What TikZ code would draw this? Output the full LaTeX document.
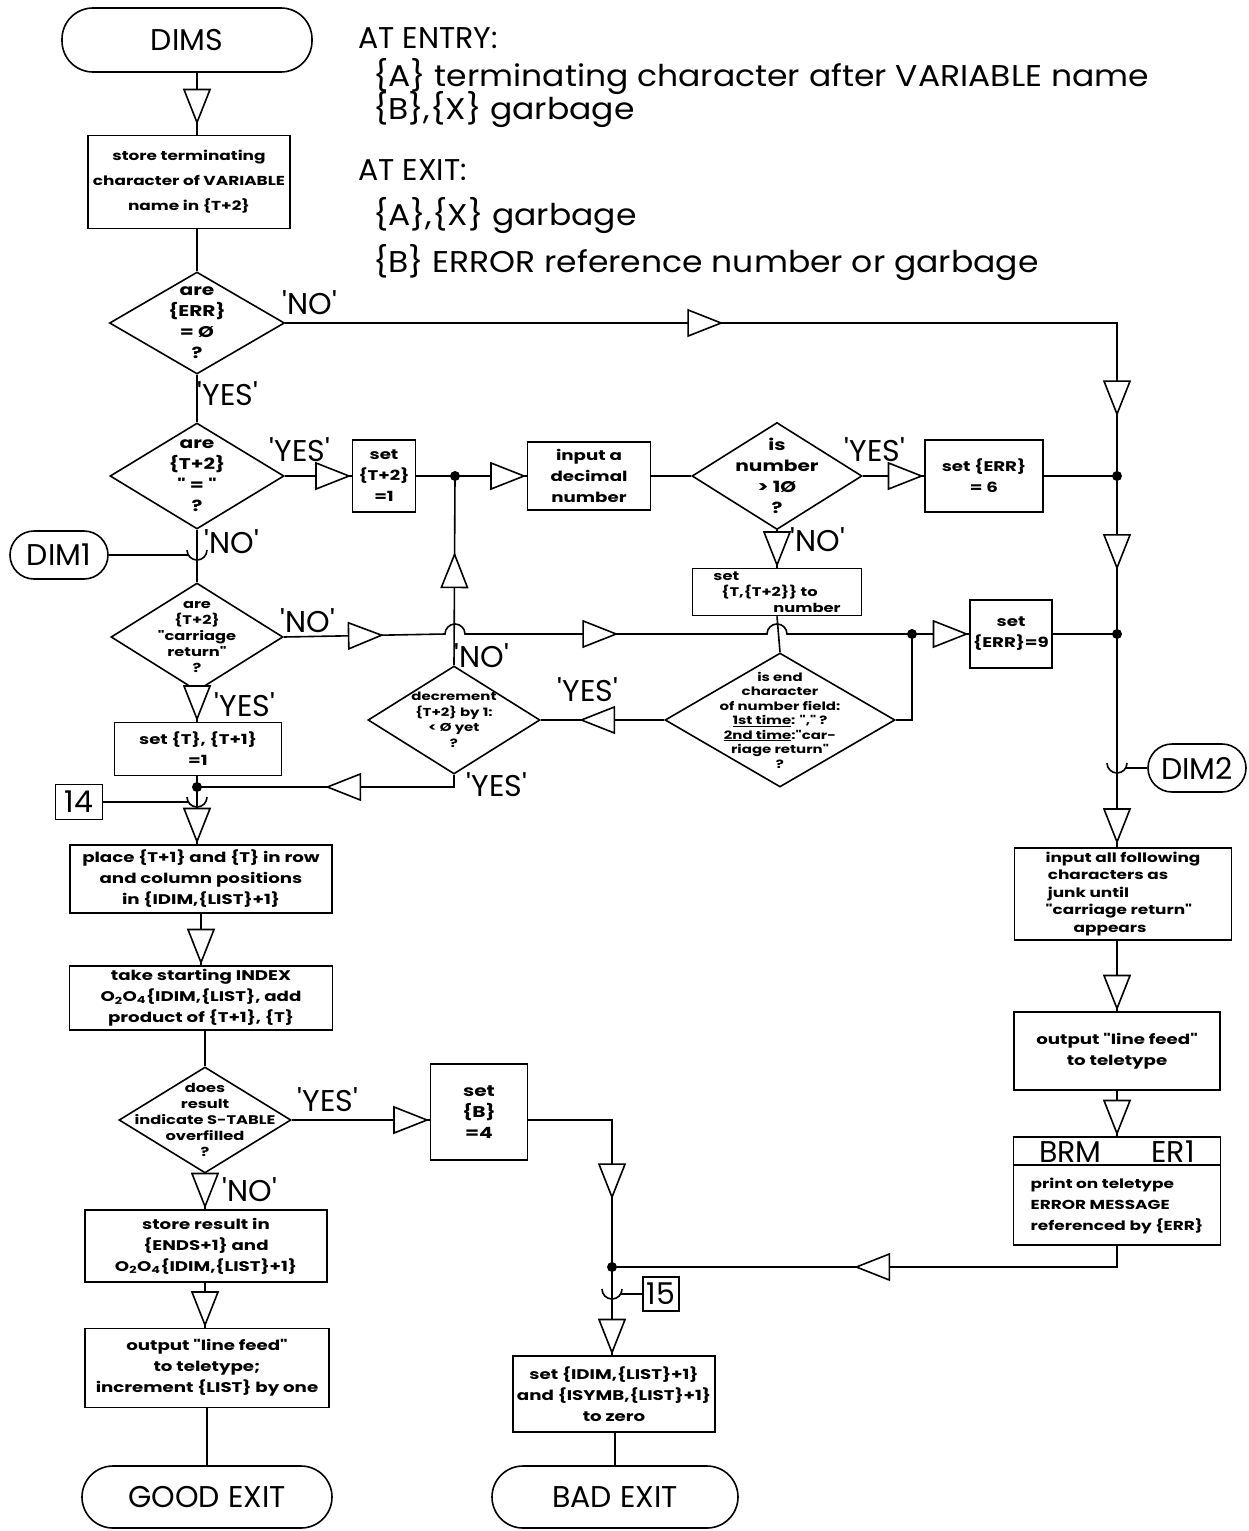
\documentclass[tikz,border=0pt]{standalone}
\usepackage{fontspec}
\setmainfont{Poppins}
\newfontfamily\handfont{Poppins}[FakeStretch=1.3]
\newfontfamily\widefont{Poppins}[FakeStretch=1.1]
\usetikzlibrary{shapes.geometric,arrows.meta,decorations.markings,calc}

\newcommand\handtext{\handfont\bfseries\fontsize{14}{21}\selectfont}
\newcommand\dectext{\handfont\bfseries\fontsize{15.5}{21}\selectfont}
\newcommand\smalltext{\handfont\bfseries\fontsize{12.5}{16}\selectfont}
\newcommand\tinytext{\handfont\bfseries\fontsize{11.5}{14.5}\selectfont}
\newcommand\bigtext{\fontsize{30}{34}\selectfont}
\newcommand\widetext{\widefont\fontsize{30}{34}\selectfont}
\newcommand\q{\textquotesingle}

\tikzset{
  flow/.style={line width=1.6pt},
  box/.style={draw, line width=1.6pt, inner sep=0pt, align=center, font=\handtext},
  term/.style={draw, line width=1.6pt, rounded corners=#1, inner sep=0pt, font=\bigtext},
  term/.default=31pt,
  decision/.style={draw, diamond, line width=1.6pt, inner sep=0pt},
  dtext/.style={align=center, font=\dectext, inner sep=0pt},
  answer/.style={font=\bigtext, inner sep=0pt},
  header/.style={font=\bigtext, anchor=base west, inner sep=0pt},
  Tri/.tip={Triangle[length=36pt,width=28pt,fill=white]},
  tipat/.style={postaction={decorate,decoration={markings,mark=at position #1 with {\arrow{Tri}}}}},
  jdot/.style={circle, fill, inner sep=0pt, minimum size=10pt},
}

\begin{document}
\begin{tikzpicture}[x=1pt,y=-1pt]
\fill[white] (0,0) rectangle (1249,1531);
\useasboundingbox (0,0) rectangle (1249,1531);

% ---------- entry / exit conditions ----------
\node[header] (entry) at (358,48) {AT ENTRY:};
\node[header, font=\widetext] (entA) at (373,86) {\{A\} terminating character after VARIABLE name};
\node[header, font=\widetext] (entB) at (373,119) {\{B\},\{X\} garbage};
\node[header] (exit) at (358,180) {AT EXIT:};
\node[header, font=\widetext] (exA) at (373,225) {\{A\},\{X\} garbage};
\node[header, font=\widetext] (exB) at (373,272) {\{B\} ERROR reference number or garbage};

% ---------- column coordinates and junctions ----------
\coordinate (mx) at (197,0);
\coordinate (jA) at (1117,476);
\coordinate (jB) at (1117,634);
\coordinate (jC) at (455,476);
\coordinate (jD) at (912,634);
\coordinate (jE) at (612,1267);
\coordinate (jF) at (197,787);
\coordinate (hopA) at (455,634);
\coordinate (hopB) at (777,634);
\coordinate (u1) at (197,550);
\coordinate (u14) at (197,797);
\coordinate (u2) at (1117,763);
\coordinate (u15) at (612,1289);

% ---------- terminals ----------
\node[term, minimum width=250pt, minimum height=64pt] (dims) at (187,40) {DIMS};
\node[term=24pt, minimum width=98pt, minimum height=48pt] (dim1) at (59,555) {DIM1};
\node[term=24pt, minimum width=98pt, minimum height=48pt] (dim2) at (1197,768) {DIM2};
\node[term, minimum width=250pt, minimum height=62pt] (good) at (207,1497) {GOOD EXIT};
\node[term, minimum width=246pt, minimum height=62pt] (bad) at (615,1497) {BAD EXIT};
\node[box, font=\bigtext, minimum width=47pt, minimum height=35pt] (n14) at (79,802) {14};
\node[box, font=\bigtext, minimum width=36pt, minimum height=34pt] (n15) at (661,1294) {15};

% ---------- process boxes ----------
\node[box, font=\handfont\bfseries\fontsize{13}{25}\selectfont, minimum width=202pt, minimum height=93pt] (st) at (189,182)
  {store terminating\\character of VARIABLE\\name in \{T+2\}};
\node[box, minimum width=63pt, minimum height=72pt] (set1) at (384,476)
  {set\\\{T+2\}\\=1};
\node[box, minimum width=123pt, minimum height=68pt] (inp) at (589,476)
  {input a\\decimal\\number};
\node[box, minimum width=118pt, minimum height=72pt] (err6) at (984,476)
  {set \{ERR\}\\= 6};
\node[box, font=\smalltext, align=left, minimum width=169pt, minimum height=47pt] (setT) at (777,592)
  {set\\\hspace*{8pt}\{T,\{T+2\}\} to\\\hspace*{60pt}number};
\node[box, minimum width=82pt, minimum height=68pt] (err9) at (1011,634)
  {set\\\{ERR\}=9};
\node[box, minimum width=167pt, minimum height=53pt] (setT1) at (198,749)
  {set \{T\}, \{T+1\}\\=1};
\node[box, minimum width=262pt, minimum height=68pt] (place) at (201,879)
  {place \{T+1\} and \{T\} in row\\and column positions\\in \{IDIM,\{LIST\}+1\}};
\node[box, minimum width=263pt, minimum height=64pt] (take) at (201,998)
  {take starting INDEX\\O\textsubscript{2}O\textsubscript{4}\{IDIM,\{LIST\}, add\\product of \{T+1\}, \{T\}};
\node[box, font=\dectext, minimum width=97pt, minimum height=96pt] (setB) at (479,1112)
  {set\\\{B\}\\=4};
\node[box, minimum width=242pt, minimum height=72pt] (storeres) at (206,1246)
  {store result in\\\{ENDS+1\} and\\O\textsubscript{2}O\textsubscript{4}\{IDIM,\{LIST\}+1\}};
\node[box, minimum width=244pt, minimum height=79pt] (outlf) at (207,1368)
  {output "line feed"\\to teletype;\\increment \{LIST\} by one};
\node[box, minimum width=202pt, minimum height=76pt] (zero) at (614,1394)
  {set \{IDIM,\{LIST\}+1\}\\and \{ISYMB,\{LIST\}+1\}\\to zero};
\node[box, font=\handfont\bfseries\fontsize{13}{17.5}\selectfont, align=left, minimum width=217pt, minimum height=92pt] (junk) at (1123,894)
  {input all following\\\,characters as\\\,junk until\\"carriage return"\\\hspace*{28pt}appears};
\node[box, minimum width=206pt, minimum height=78pt] (lf2) at (1117,1051)
  {output "line feed"\\to teletype};
\node[box, minimum width=207pt, minimum height=108pt] (brm) at (1117,1191) {};
\node[font=\bigtext, inner sep=0pt] (brmh) at (1117,1152) {BRM\hspace{50pt}ER1};
\node[align=left, inner sep=0pt, font=\handfont\bfseries\fontsize{13}{21}\selectfont] (brmb) at (1117,1206)
  {print on teletype\\ERROR MESSAGE\\referenced by \{ERR\}};
\draw[flow] ([yshift=-29pt]brm.north west) -- ([yshift=-29pt]brm.north east);

% ---------- decisions ----------
\node[decision, minimum width=175pt, minimum height=102pt] (d1) at (197,323) {};
\node[dtext] (d1t) at (d1) {are\\\{ERR\}\\= Ø\\?};
\node[decision, minimum width=174pt, minimum height=106pt] (d2) at (197,476) {};
\node[dtext] (d2t) at (d2) {are\\\{T+2\}\\" = "\\?};
\node[decision, minimum width=172pt, minimum height=108pt] (dcr) at (197,637) {};
\node[dtext, font=\smalltext] (dcrt) at (dcr) {are\\\{T+2\}\\"carriage\\return"\\?};
\node[decision, minimum width=170pt, minimum height=107pt] (d3) at (777,476) {};
\node[dtext] (d3t) at (d3) {is\\number\\> 1Ø\\?};
\node[decision, minimum width=172pt, minimum height=108pt] (ddec) at (454,720) {};
\node[dtext, font=\handfont\bfseries\fontsize{11.5}{15.5}\selectfont] (ddect) at (ddec) {decrement\\\{T+2\} by 1:\\< Ø yet\\?};
\node[decision, minimum width=230pt, minimum height=134pt] (dend) at (780,720) {};
\node[dtext, font=\tinytext] (dendt) at (dend)
  {is end\\character\\of number field:\\\underline{1st time}: "," ?\\\underline{2nd time}:"car-\\riage return"\\?};
\node[decision, minimum width=172pt, minimum height=106pt] (d6) at (205,1120) {};
\node[dtext, font=\smalltext] (d6t) at (d6) {does\\result\\indicate S-TABLE\\overfilled\\?};

% ---------- branch labels ----------
\node[answer] (l1n) at (310,303) {\q NO\q};
\node[answer] (l1y) at (228,394) {\q YES\q};
\node[answer] (l2y) at (300,450) {\q YES\q};
\node[answer] (l2n) at (232,542) {\q NO\q};
\node[answer] (lcrn) at (308,621) {\q NO\q};
\node[answer] (lcry) at (245,705) {\q YES\q};
\node[answer] (l3y) at (875,450) {\q YES\q};
\node[answer] (l3n) at (818,540) {\q NO\q};
\node[answer] (ldecn) at (482,656) {\q NO\q};
\node[answer] (ldecy) at (497,785) {\q YES\q};
\node[answer] (lendy) at (588,690) {\q YES\q};
\node[answer] (l6y) at (328,1100) {\q YES\q};
\node[answer] (l6n) at (250,1190) {\q NO\q};

% ---------- connectors: main column ----------
\draw[flow, tipat=-10pt] (dims.south -| mx) -- (st.north -| mx);
\draw[flow] (st.south -| mx) -- (d1.north);
\draw[flow] (d1.south) -- (d2.north);
\draw[flow] (d2.south) -- (dcr.north);
\draw[flow, tipat=-0.5pt] (dcr.south) -- (setT1.north -| dcr.south);
\draw[flow, tipat=-0.5pt] (setT1.south -| mx) -- (place.north -| mx);
\draw[flow, tipat=-0.5pt] (place.south) -- (take.north);
\draw[flow] (take.south -| d6.north) -- (d6.north);
\draw[flow, tipat=-0.5pt] (d6.south) -- (storeres.north -| d6.south);
\draw[flow, tipat=-0.5pt] (storeres.south -| d6.south) -- (outlf.north -| d6.south);
\draw[flow] (outlf.south -| good.north) -- (good.north);

% entry connectors
\draw[flow] ($(u1)+(10,0)$) arc[start angle=0, end angle=180, radius=10];
\draw[flow] (dim1.east) -- ($(u1)+(150:10)$);
\draw[flow] ($(u14)+(10,0)$) arc[start angle=0, end angle=180, radius=10];
\draw[flow] (n14.east) -- ($(u14)+(150:10)$);
\draw[flow] ($(u2)+(10,0)$) arc[start angle=0, end angle=180, radius=10];
\draw[flow] (dim2.west) -- ($(u2)+(30:10)$);
\draw[flow] ($(u15)+(10,0)$) arc[start angle=0, end angle=180, radius=10];
\draw[flow] (n15.west) -- ($(u15)+(30:10)$);

% ---------- connectors: number input loop ----------
\draw[flow, tipat=-0.5pt] (d2.east) -- (set1.west);
\draw[flow, tipat=-0.5pt] (set1.east) -- (inp.west);
\draw[flow] (inp.east) -- (d3.west);
\draw[flow, tipat=-0.5pt] (d3.east) -- (err6.west);
\draw[flow] (err6.east) -- (jA);
\draw[flow, tipat=-0.5pt] (d3.south) -- (setT.north);
\draw[flow] (setT.south) -- (dend.north);
\draw[flow, tipat=85pt] (dend.west) -- (ddec.east);
\draw[flow, tipat=113pt] (ddec.north) -- (jC);
\draw[flow, tipat=141pt] (ddec.south) |- (jF);
\draw[flow] (dend.east) -| (jD);
\draw[flow, tipat=100pt, tipat=346pt, tipat=-0.5pt]
  (dcr.east) -- ($(hopA)+(-10,0)$) arc[start angle=180, end angle=360, radius=10]
  -- ($(hopB)+(-10,0)$) arc[start angle=180, end angle=360, radius=10]
  -- (err9.west);
\draw[flow] (err9.east) -- (jB);

% ---------- connectors: error path ----------
\draw[flow, tipat=438pt, tipat=925pt] (d1.east) -| (jA);
\draw[flow, tipat=94pt] (jA) -- (jB);
\draw[flow, tipat=-3pt] (jB) -- (junk.north -| jB);
\draw[flow, tipat=-0.5pt] (junk.south -| jB) -- (lf2.north -| jB);
\draw[flow, tipat=-0.5pt] (lf2.south -| jB) -- (brm.north -| jB);
\draw[flow, tipat=284pt] (brm.south -| jB) |- (jE);
\draw[flow, tipat=-0.5pt] (d6.east) -- (d6.east -| setB.west);
\draw[flow, tipat=163pt] (d6.east -| setB.east) -| (jE);
\draw[flow, tipat=-0.5pt] (jE) -- (zero.north -| jE);
\draw[flow] (zero.south -| bad.north) -- (bad.north);

% ---------- junction dots ----------
\foreach \j in {jA,jB,jC,jD,jE,jF} \node[jdot] at (\j) {};
\end{tikzpicture}
\end{document}
